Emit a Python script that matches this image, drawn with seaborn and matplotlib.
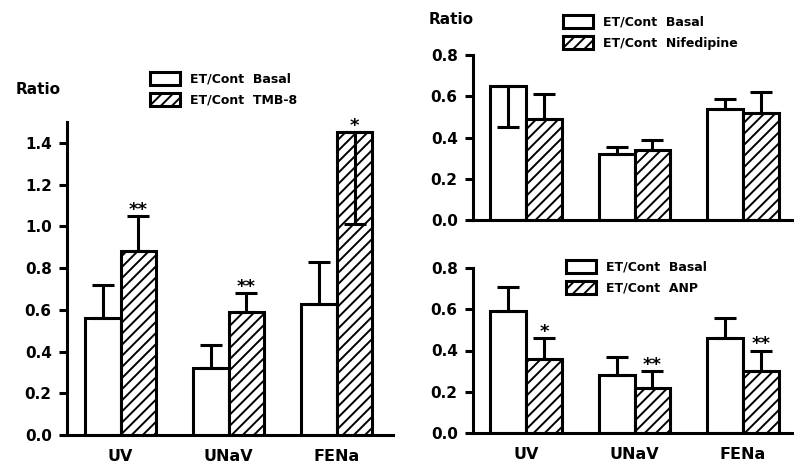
import numpy as np
import pandas as pd
import matplotlib
matplotlib.use("Agg")
import matplotlib.pyplot as plt
import seaborn as sns
from matplotlib.patches import Patch
from matplotlib.ticker import FormatStrFormatter

# ---------------- data ----------------
categories = ["UV", "UNaV", "FENa"]

# left panel: Basal vs TMB-8
tmb_basal = [0.56, 0.32, 0.63]
tmb_basal_err = [0.16, 0.11, 0.20]
tmb_basal_dir = [1, 1, 1]
tmb_treat = [0.88, 0.59, 1.45]
tmb_treat_err = [0.17, 0.09, 0.44]
tmb_treat_dir = [1, 1, -1]
tmb_stars = ["**", "**", "*"]

# top-right panel: Basal vs Nifedipine
nif_basal = [0.65, 0.32, 0.54]
nif_basal_err = [0.20, 0.035, 0.045]
nif_basal_dir = [-1, 1, 1]
nif_treat = [0.49, 0.34, 0.52]
nif_treat_err = [0.12, 0.05, 0.10]
nif_treat_dir = [1, 1, 1]
nif_stars = ["", "", ""]

# bottom-right panel: Basal vs ANP
anp_basal = [0.59, 0.28, 0.46]
anp_basal_err = [0.12, 0.09, 0.10]
anp_basal_dir = [1, 1, 1]
anp_treat = [0.36, 0.22, 0.30]
anp_treat_err = [0.10, 0.08, 0.10]
anp_treat_dir = [1, 1, 1]
anp_stars = ["*", "**", "**"]

# ---------------- style ----------------
sns.set_style("white")
plt.rcParams["font.family"] = ["DejaVu Sans"]
plt.rcParams["font.weight"] = "bold"
plt.rcParams["text.color"] = "black"
plt.rcParams["xtick.color"] = "black"
plt.rcParams["ytick.color"] = "black"
plt.rcParams["hatch.linewidth"] = 1.4
plt.rcParams["hatch.color"] = "black"

W, H = 794, 467
fig = plt.figure(figsize=(W / 100, H / 100), dpi=100)


def px_axes(x0, x1, y_bottom, y_top):
    return fig.add_axes([x0 / W, 1 - y_bottom / H, (x1 - x0) / W, (y_bottom - y_top) / H])


def panel(ax, basal, berr, bdir, treat, terr, tdir, stars, treat_name,
          ylim, yticks, xlim, show_x):
    df = pd.DataFrame({
        "cat": categories * 2,
        "val": basal + treat,
        "cond": ["Basal"] * 3 + [treat_name] * 3,
    })
    sns.barplot(data=df, x="cat", y="val", hue="cond", order=categories,
                hue_order=["Basal", treat_name], palette=["white", "white"],
                saturation=1, edgecolor="black", linewidth=2.2, width=0.66,
                errorbar=None, legend=False, ax=ax, zorder=2)
    for bar in ax.containers[1]:
        bar.set_hatch("///")
    for cont, err, dirs in [(ax.containers[0], berr, bdir),
                            (ax.containers[1], terr, tdir)]:
        for bar, e, d in zip(cont, err, dirs):
            x = bar.get_x() + bar.get_width() / 2
            h = bar.get_height()
            yerr = [[0], [e]] if d > 0 else [[e], [0]]
            ax.errorbar([x], [h], yerr=yerr, fmt="none", ecolor="black",
                        elinewidth=2.2, capsize=8, capthick=2.2, zorder=5)
    for bar, e, d, s in zip(ax.containers[1], terr, tdir, stars):
        if not s:
            continue
        x = bar.get_x() + bar.get_width() / 2
        h = bar.get_height()
        top = h + e if d > 0 else h
        ax.annotate(s, (x, top), xytext=(0, 1), textcoords="offset points",
                    ha="center", va="baseline", fontsize=13, fontweight="bold",
                    color="black", annotation_clip=False)
    ax.set_xlim(*xlim)
    ax.set_ylim(*ylim)
    ax.set_yticks(yticks)
    ax.yaxis.set_major_formatter(FormatStrFormatter("%.1f"))
    ax.set_xlabel("")
    ax.set_ylabel("")
    sns.despine(ax=ax)
    for sp in ["left", "bottom"]:
        ax.spines[sp].set_linewidth(2.2)
        ax.spines[sp].set_color("black")
    ax.tick_params(axis="y", direction="out", length=6, width=2.2, left=True,
                   labelsize=11, pad=5, colors="black")
    ax.tick_params(axis="x", length=0, labelsize=11.5, pad=10, colors="black")
    for lab in ax.get_yticklabels() + ax.get_xticklabels():
        lab.set_fontweight("bold")
    if not show_x:
        ax.set_xticklabels([])
    ax.set_facecolor("none")


def add_legend(ax, treat_name, x, y):
    handles = [Patch(facecolor="white", edgecolor="black", linewidth=2.2),
               Patch(facecolor="white", edgecolor="black", linewidth=2.2, hatch="///")]
    labels = ["ET/Cont  Basal", "ET/Cont  " + treat_name]
    leg = ax.legend(handles, labels, loc="upper left",
                    bbox_to_anchor=(x / W, 1 - y / H), bbox_transform=fig.transFigure,
                    frameon=False, borderpad=0, borderaxespad=0,
                    handlelength=2.4, handleheight=1.25, handletextpad=0.8,
                    labelspacing=0.55, labelcolor="black",
                    prop={"weight": "bold", "size": 9})
    return leg


# left panel
axL = px_axes(67, 393, 435, 122)
panel(axL, tmb_basal, tmb_basal_err, tmb_basal_dir, tmb_treat, tmb_treat_err,
      tmb_treat_dir, tmb_stars, "TMB-8", (0, 1.5),
      [0, 0.2, 0.4, 0.6, 0.8, 1.0, 1.2, 1.4], (-0.495, 2.52), True)
add_legend(axL, "TMB-8", 150, 72)
fig.text(38 / W, 1 - 90 / H, "Ratio", ha="center", va="center",
         fontsize=11, fontweight="bold", color="black")

# top-right panel
axT = px_axes(473, 794, 220, 55)
panel(axT, nif_basal, nif_basal_err, nif_basal_dir, nif_treat, nif_treat_err,
      nif_treat_dir, nif_stars, "Nifedipine", (0, 0.8),
      [0, 0.2, 0.4, 0.6, 0.8], (-0.49, 2.47), False)
add_legend(axT, "Nifedipine", 563, 15)
fig.text(451 / W, 1 - 20 / H, "Ratio", ha="center", va="center",
         fontsize=11, fontweight="bold", color="black")

# bottom-right panel
axB = px_axes(473, 794, 433, 268)
panel(axB, anp_basal, anp_basal_err, anp_basal_dir, anp_treat, anp_treat_err,
      anp_treat_dir, anp_stars, "ANP", (0, 0.8),
      [0, 0.2, 0.4, 0.6, 0.8], (-0.49, 2.47), True)
add_legend(axB, "ANP", 566, 260)

fig.savefig("out.png", dpi=100)
